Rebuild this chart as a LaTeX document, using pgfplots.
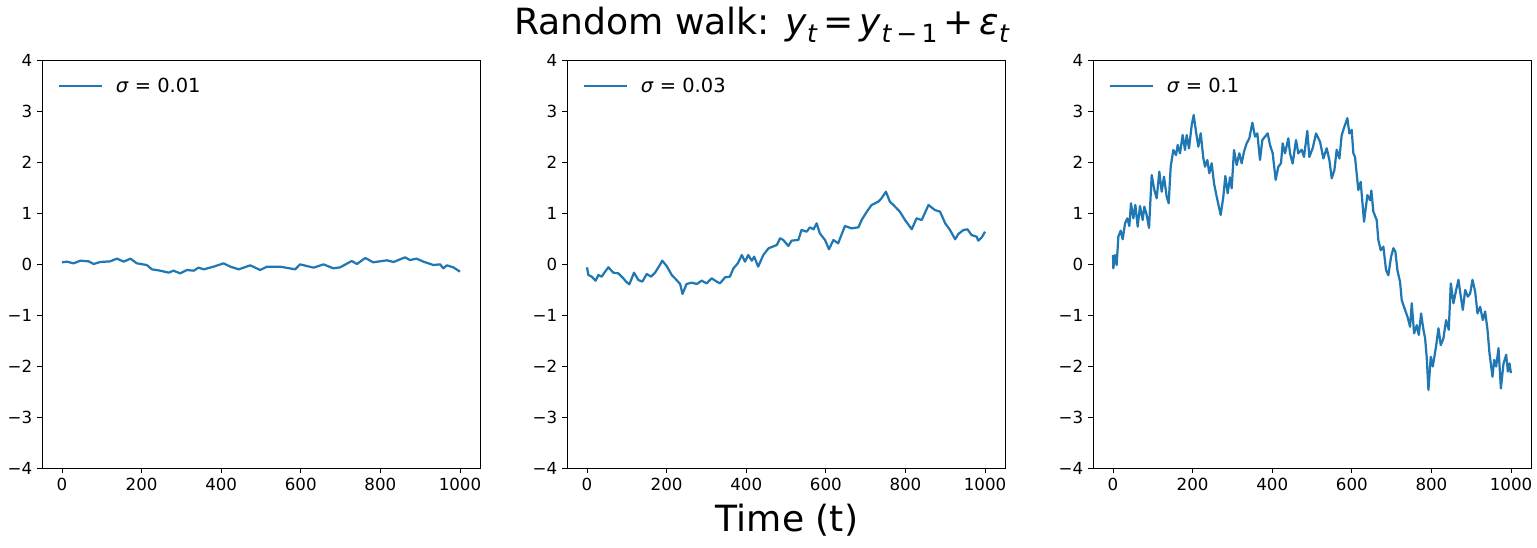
\documentclass[border=0pt]{standalone}
\usepackage{fontspec}
\setmainfont{DejaVu Sans}
\usepackage{pgfplots}
\pgfplotsset{compat=1.18}
\definecolor{tabblue}{HTML}{1F77B4}
\newcommand{\sub}[1]{\raisebox{-0.22em}{\fontsize{18bp}{18bp}\selectfont #1}}
\newcommand{\legtext}[1]{\hspace*{7.4bp}#1}
\pgfplotsset{rw/.style={
  scale only axis, width=315.36bp, height=293.76bp,
  xmin=-50.25, xmax=1050.25, ymin=-4, ymax=4,
  xtick={0,200,...,1000}, ytick={-4,-3,...,4},
  yticklabels={−4,−3,−2,−1,0,1,2,3,4},
  tick align=outside, xtick pos=bottom, ytick pos=left,
  major tick length=3.5bp,
  axis line style={line width=0.6bp},
  every tick/.style={black, line width=0.6bp},
  tick label style={font=\fontsize{12bp}{14bp}\selectfont},
  /pgf/number format/assume math mode=true,
  /pgf/number format/1000 sep={},
  legend style={draw=none, fill=none, inner sep=0pt,
    at={(axis description cs:0,0.936)}, anchor=west, xshift=11bp,
    font=\fontsize{14bp}{16bp}\selectfont},
  legend image code/.code={\draw[#1] (0bp,0bp) -- (31bp,0bp);},
  cycle list={{tabblue, no markers}},
  every axis plot/.append style={line width=1.6bp, line join=round},
}}
\begin{document}
\begin{tikzpicture}
\useasboundingbox (-30.24bp,-56.88bp) rectangle (1076.4bp,336.96bp);
\begin{axis}[rw, at={(0bp,0bp)}, anchor=south west]
\addplot coordinates {(0,0.033)(12.6,0.046)(29,0.013)(46,0.065)(67,0.052)(79.5,0)(96,0.039)(121,0.052)(138,0.105)(155,0.046)(172,0.105)(188,0.013)(213,-0.02)(226,-0.105)(247,-0.131)(268,-0.17)(280,-0.131)(297,-0.183)(314,-0.118)(331,-0.131)(343,-0.072)(356,-0.105)(381,-0.052)(406,0.013)(423,-0.052)(444,-0.105)(473,-0.026)(498,-0.118)(515,-0.052)(548,-0.052)(586,-0.105)(598,-0.007)(615,-0.039)(632,-0.072)(657,-0.007)(682,-0.085)(699,-0.065)(728,0.059)(741,0)(762,0.118)(782,0.033)(816,0.072)(833,0.039)(862,0.131)(874,0.078)(891,0.105)(908,0.046)(933,-0.02)(950,-0.007)(958,-0.085)(967,-0.026)(983,-0.065)(1000,-0.15)};
\addlegendentry{\legtext{\textit{σ} = 0.01}}
\end{axis}
\begin{axis}[rw, at={(378bp,0bp)}, anchor=south west]
\addplot coordinates {(0,-0.065)(3.4,-0.216)(11.7,-0.248)(21.8,-0.327)(28.5,-0.216)(36.9,-0.248)(43.6,-0.170)(53.6,-0.065)(66.2,-0.170)(78.7,-0.183)(91.3,-0.281)(98,-0.346)(106.4,-0.399)(118.1,-0.170)(129,-0.314)(139,-0.346)(150,-0.196)(161,-0.248)(171,-0.170)(183,-0.020)(189,0.065)(200,-0.039)(213,-0.216)(225,-0.314)(234,-0.392)(240,-0.588)(250,-0.392)(263,-0.366)(276,-0.392)(288,-0.327)(301,-0.379)(313,-0.281)(326,-0.346)(334,-0.379)(347,-0.261)(359,-0.248)(368,-0.085)(379,0.013)(389,0.176)(397,0.046)(405,0.176)(414,0.065)(420,0.144)(430,-0.052)(443,0.176)(456,0.307)(477,0.373)(485,0.503)(493,0.471)(506,0.353)(514,0.458)(531,0.471)(539,0.667)(552,0.634)(560,0.719)(569,0.680)(577,0.797)(585,0.601)(598,0.471)(608,0.288)(619,0.471)(631,0.405)(648,0.745)(665,0.699)(682,0.719)(690,0.863)(703,1.026)(715,1.157)(732,1.222)(740,1.288)(751,1.418)(761,1.222)(770,1.157)(786,1.026)(799,0.863)(816,0.680)(828,0.895)(841,0.863)(858,1.157)(874,1.059)(887,1.026)(900,0.797)(912,0.667)(925,0.484)(933,0.588)(946,0.667)(956,0.680)(966,0.569)(979,0.536)(983,0.458)(992,0.523)(1000,0.634)};
\addlegendentry{\legtext{\textit{σ} = 0.03}}
\end{axis}
\begin{axis}[rw, at={(756.72bp,0bp)}, anchor=south west]
\addplot coordinates {(0,0.18)(0.8,-0.085)(5,0.176)(9.2,-0.02)(13.4,0.536)(19.3,0.654)(24.3,0.484)(30.2,0.797)(36,0.895)(41,0.745)(45.2,1.190)(51.1,0.895)(56.1,1.157)(62,0.732)(67.8,1.137)(74.5,0.863)(78.7,1.124)(84.6,0.961)(90.5,0.706)(97.2,1.745)(103.9,1.451)(109.7,1.288)(116.4,1.810)(122.3,1.418)(128.1,1.712)(134.8,1.320)(139.9,1.190)(144.9,1.908)(151.6,2.235)(158.3,2.137)(162.5,2.333)(168.3,2.170)(175,2.529)(180.9,2.235)(185.1,2.529)(191,2.268)(197.7,2.725)(202.7,2.922)(208.5,2.595)(214.4,2.301)(220.3,2.562)(227,2.072)(231.2,1.908)(237,2.039)(242,1.778)(247.9,1.974)(253.8,1.582)(260.5,1.320)(270.5,0.961)(277.2,1.320)(282.2,1.725)(288.1,1.386)(294,1.699)(298.2,1.484)(304,2.235)(310.7,1.941)(317.4,2.170)(323.3,1.974)(329.1,2.203)(335.8,2.366)(342.5,2.464)(350.1,2.771)(356.8,2.497)(362.6,2.562)(369.3,2.039)(375.2,2.431)(381.9,2.497)(388.6,2.562)(394.5,2.333)(401.2,2.170)(408.7,1.65)(415.4,1.908)(422.1,1.974)(426.3,2.366)(432.2,2.170)(440.5,2.464)
(444.7,2.17)(451.4,1.97)(459.8,2.43)(465.6,2.17)(474,2.24)(479.9,2.10)(488.2,2.61)(493.3,2.10)(501.7,2.27)(510.1,2.56)(520.1,2.40)(528.5,2.07)(536.9,2.27)(543.6,2.04)(549.5,1.68)(556.2,1.84)(562,2.24)(568.8,2.07)(574.6,2.53)(581.3,2.69)(588.8,2.86)(593.8,2.56)(599.7,2.63)(603.9,2.17)(608,2.10)(616.4,1.45)(622.3,1.61)(630.7,0.83)(639.1,1.35)(645.8,1.25)(649.1,1.44)(654.1,1.03)(662.5,0.86)(666.7,0.47)(672.6,0.27)(679.3,0.34)(686,-0.12)(691.8,-0.22)(698.6,0.14)(704.4,0.31)(709.5,0.24)(714.5,-0.12)(721.2,-0.35)(725.4,-0.71)(733.8,-0.90)(739.7,-1.03)(746.4,-1.23)(750.6,-0.77)(756.5,-1.36)(763.2,-1.20)(768.2,-1.39)(774.1,-0.97)(780,-1.29)(784.2,-1.46)(788.4,-1.85)(792.5,-2.47)(798.4,-1.82)(803.4,-2.01)(811,-1.65)(817.7,-1.26)(823.5,-1.59)(830.2,-1.46)(836.9,-1.10)(843.6,-1.29)(848.7,-0.38)(855.4,-0.77)(861.3,-0.54)(868,-0.31)(873.8,-0.64)(878.9,-0.90)(884.8,-0.51)(891.5,-0.64)(897.3,-0.58)(903.2,-0.31)(909.9,-0.54)(915.8,-0.97)(922.5,-0.84)(929.1,-1.10)(935,-0.93)(940.9,-1.29)(945.9,-1.75)(953.5,-2.21)(957.7,-1.88)(962.7,-2.01)(968.6,-1.65)(974.5,-2.44)(981.2,-1.95)(987.9,-1.78)(992.1,-2.11)(996.3,-1.95)(999.7,-2.14)};
\addlegendentry{\legtext{\textit{σ} = 0.1}}
\end{axis}
\node[font=\fontsize{26bp}{30bp}\selectfont, inner sep=0pt] at (518.4bp,318.96bp) {Random walk: \textit{y}\sub{\textit{t}}\,=\,\textit{y}\sub{\textit{t}\,−\,1}\,+\,\textit{ε}\sub{\textit{t}}};
\node[font=\fontsize{26bp}{30bp}\selectfont, inner sep=0pt] at (536.4bp,-37.44bp) {Time (t)};
\end{tikzpicture}
\end{document}
